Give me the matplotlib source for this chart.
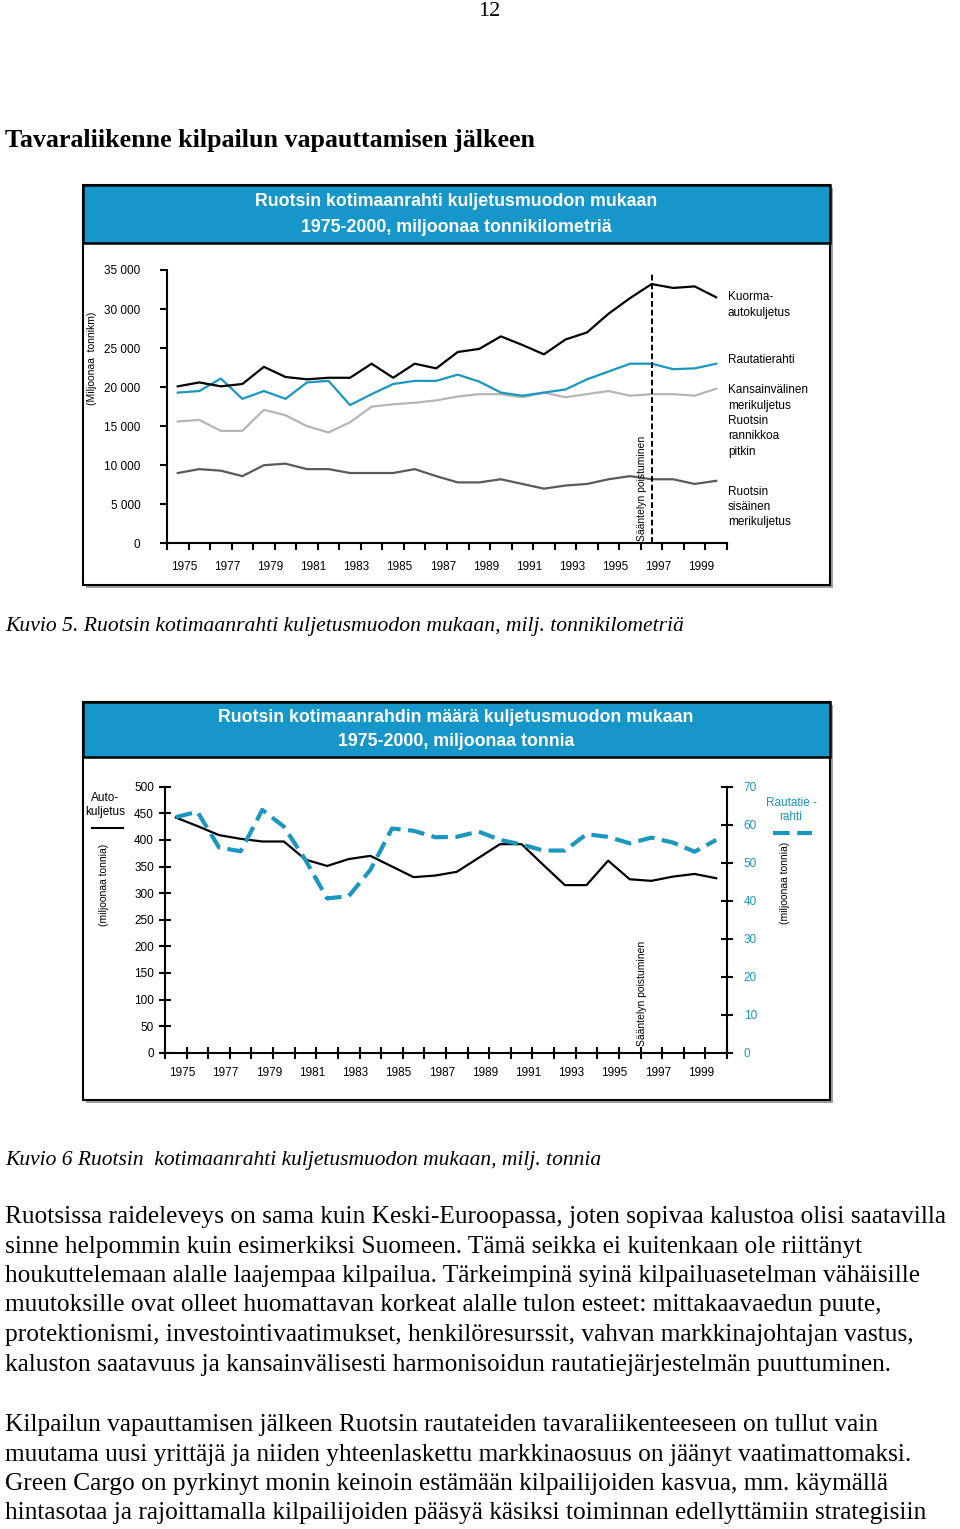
import matplotlib
matplotlib.use('Agg')
import matplotlib.pyplot as plt
from matplotlib.patches import Rectangle

# --- data: Swedish domestic freight, 1975-2000 ---
years = list(range(1975, 2001))
year_labels = [str(y) for y in years[::2]]

# chart 1: million tonne-km
truck_tkm = [20100, 20600, 20100, 20400, 22600, 21300, 21000, 21200, 21200, 23000, 21200, 23000, 22400,
             24500, 24900, 26500, 25400, 24200, 26100, 27000, 29400, 31400, 33200, 32700, 32900, 31500]
rail_tkm = [19300, 19500, 21100, 18500, 19500, 18500, 20600, 20800, 17700, 19100, 20400, 20800, 20800,
            21600, 20700, 19300, 18900, 19300, 19700, 21000, 22000, 23000, 23000, 22300, 22400, 23000]
intl_sea_tkm = [15600, 15800, 14400, 14400, 17100, 16400, 15000, 14200, 15500, 17500, 17800, 18000, 18300,
                18800, 19100, 19100, 18700, 19300, 18700, 19100, 19500, 18900, 19100, 19100, 18900, 19800]
domestic_sea_tkm = [9000, 9500, 9300, 8600, 10000, 10200, 9500, 9500, 9000, 9000, 9000, 9500, 8600,
                    7800, 7800, 8200, 7600, 7000, 7400, 7600, 8200, 8600, 8200, 8200, 7600, 8000]

# chart 2: million tonnes
truck_t = [442, 426, 409, 402, 397, 397, 363, 351, 364, 370, 350, 330, 333,
           340, 366, 392, 392, 353, 315, 315, 361, 326, 323, 331, 336, 328]
rail_t = [62.0, 63.4, 54.0, 53.0, 63.9, 59.5, 50.7, 40.6, 41.2, 48.1, 59.0, 58.4, 56.7,
          56.8, 58.2, 56.0, 54.8, 53.2, 53.2, 57.5, 56.8, 55.1, 56.6, 55.3, 52.9, 56.0]

dereg_year = 1997

BLUE = '#1796c9'
LINE_BLUE = '#1a97c0'
NARROW = ['Liberation Sans', 'DejaVu Sans']
SERIF = ['Liberation Serif', 'DejaVu Serif']
TICK_FS = 8.5

W, H = 960, 1529
fig = plt.figure(figsize=(W / 100, H / 100), dpi=100)

bg = fig.add_axes([0, 0, 1, 1])
bg.set_xlim(0, W)
bg.set_ylim(H, 0)
bg.axis('off')


def px_axes(left, top, right, bottom):
    return fig.add_axes([left / W, 1 - bottom / H, (right - left) / W, (bottom - top) / H])


def panel(top, bottom, head_bottom, title_lines, title_ys):
    bg.add_patch(Rectangle((86, top + 3), 747, bottom - top, fc='#a0a0a0', ec='none'))
    bg.add_patch(Rectangle((83, top), 747, bottom - top, fc='white', ec='black', lw=1.5))
    bg.add_patch(Rectangle((83, top), 747, head_bottom - top, fc=BLUE, ec='black', lw=1.8))
    for t, y in zip(title_lines, title_ys):
        bg.text(456, y, t, color='white', fontsize=12.8, fontweight='bold', family=NARROW,
                ha='center', va='center')


# page text
bg.text(489, 12, '12', family=SERIF, fontsize=16, ha='center', va='center')
bg.text(5, 140, 'Tavaraliikenne kilpailun vapauttamisen jälkeen', family=SERIF, fontsize=18.7,
        fontweight='bold', ha='left', va='center')
bg.text(5, 627, 'Kuvio 5. Ruotsin kotimaanrahti kuljetusmuodon mukaan, milj. tonnikilometriä',
        family=SERIF, fontsize=15.6, style='italic', ha='left', va='center')
bg.text(5, 1161, 'Kuvio 6 Ruotsin  kotimaanrahti kuljetusmuodon mukaan, milj. tonnia',
        family=SERIF, fontsize=15.5, style='italic', ha='left', va='center')

para1 = ['Ruotsissa raideleveys on sama kuin Keski-Euroopassa, joten sopivaa kalustoa olisi saatavilla',
         'sinne helpommin kuin esimerkiksi Suomeen. Tämä seikka ei kuitenkaan ole riittänyt',
         'houkuttelemaan alalle laajempaa kilpailua. Tärkeimpinä syinä kilpailuasetelman vähäisille',
         'muutoksille ovat olleet huomattavan korkeat alalle tulon esteet: mittakaavaedun puute,',
         'protektionismi, investointivaatimukset, henkilöresurssit, vahvan markkinajohtajan vastus,',
         'kaluston saatavuus ja kansainvälisesti harmonisoidun rautatiejärjestelmän puuttuminen.']
para2 = ['Kilpailun vapauttamisen jälkeen Ruotsin rautateiden tavaraliikenteeseen on tullut vain',
         'muutama uusi yrittäjä ja niiden yhteenlaskettu markkinaosuus on jäänyt vaatimattomaksi.',
         'Green Cargo on pyrkinyt monin keinoin estämään kilpailijoiden kasvua, mm. käymällä',
         'hintasotaa ja rajoittamalla kilpailijoiden pääsyä käsiksi toiminnan edellyttämiin strategisiin']
for i, line in enumerate(para1):
    bg.text(5, 1217 + i * 29.5, line, family=SERIF, fontsize=18.3, ha='left', va='center')
for i, line in enumerate(para2):
    bg.text(5, 1425 + i * 29.5, line, family=SERIF, fontsize=18.3, ha='left', va='center')

# ---------------- chart 1 ----------------
panel(185, 585, 243, ['Ruotsin kotimaanrahti kuljetusmuodon mukaan',
                      '1975-2000, miljoonaa tonnikilometriä'], [202, 227])

ax1 = px_axes(167, 270, 727, 543.3)
ax1.patch.set_visible(False)
xc = [i + 0.5 for i in range(len(years))]
ax1.plot(xc, intl_sea_tkm, color='#b5b5b5', lw=1.6)
ax1.plot(xc, domestic_sea_tkm, color='#5a5a5a', lw=1.6)
ax1.plot(xc, rail_tkm, color=LINE_BLUE, lw=1.6)
ax1.plot(xc, truck_tkm, color='black', lw=1.6)
dx = years.index(dereg_year) + 0.5
ax1.plot([dx, dx], [0, 34800], color='black', lw=1.4, ls=(0, (3, 1.5)))
ax1.text(dx - 0.45, 300, 'Sääntelyn poistuminen', rotation=90, fontsize=7.5, family=NARROW,
         ha='center', va='bottom')
ax1.set_xlim(0, len(years))
ax1.set_ylim(0, 35000)
for s in ['top', 'right']:
    ax1.spines[s].set_visible(False)
for s in ['left', 'bottom']:
    ax1.spines[s].set_linewidth(1.5)
yt = list(range(0, 35001, 5000))
ax1.set_yticks(yt)
ax1.set_yticklabels([f'{v:,}'.replace(',', ' ') for v in yt], family=NARROW, fontsize=TICK_FS)
ax1.tick_params(axis='y', direction='out', length=5, width=1.5, pad=14)
ax1.set_xticks(range(len(years) + 1))
ax1.set_xticklabels([])
ax1.tick_params(axis='x', which='major', direction='out', length=5, width=1.5)
ax1.set_xticks([i + 0.8 for i in range(0, len(years), 2)], minor=True)
ax1.set_xticklabels(year_labels, minor=True, family=NARROW, fontsize=TICK_FS)
ax1.tick_params(axis='x', which='minor', length=0, pad=13)

bg.text(92, 358, '(Miljoonaa  tonnikm)', rotation=90, family=NARROW, fontsize=7.5,
        ha='center', va='center')
leg1 = [('Kuorma-\nautokuljetus', 305), ('Rautatierahti', 360),
        ('Kansainvälinen\nmerikuljetus\nRuotsin\nrannikkoa\npitkin', 421),
        ('Ruotsin\nsisäinen\nmerikuljetus', 507)]
for t, y in leg1:
    bg.text(728, y, t, family=NARROW, fontsize=TICK_FS, ha='left', va='center', linespacing=1.38)

# ---------------- chart 2 ----------------
panel(702, 1100, 757, ['Ruotsin kotimaanrahdin määrä kuljetusmuodon mukaan',
                       '1975-2000, miljoonaa tonnia'], [718, 741])

ax2 = px_axes(165, 786.7, 727, 1052.7)
ax2.patch.set_visible(False)
ax2.plot(xc, truck_t, color='black', lw=1.6)
ax2.set_xlim(0, len(years))
ax2.set_ylim(0, 500)
ax2r = ax2.twinx()
ax2r.plot(xc, rail_t, color=LINE_BLUE, lw=3, ls=(0, (4, 1.8)))
ax2r.set_ylim(0, 70)
for a in (ax2, ax2r):
    a.spines['top'].set_visible(False)
    for s in ['left', 'bottom', 'right']:
        a.spines[s].set_linewidth(1.5)
ax2.spines['right'].set_visible(False)
ax2r.spines['left'].set_visible(False)
ax2r.spines['bottom'].set_visible(False)
lt = list(range(0, 501, 50))
ax2.set_yticks(lt)
ax2.set_yticklabels([str(v) for v in lt], family=NARROW, fontsize=TICK_FS)
ax2.tick_params(axis='y', direction='inout', length=8, width=1.5, pad=4)
rt = list(range(0, 71, 10))
ax2r.set_yticks(rt)
ax2r.set_yticklabels([str(v) for v in rt], family=NARROW, fontsize=TICK_FS, color=LINE_BLUE)
ax2r.tick_params(axis='y', direction='inout', length=8, width=1.5, pad=8)
ax2.set_xticks(range(len(years) + 1))
ax2.set_xticklabels([])
ax2.tick_params(axis='x', which='major', direction='inout', length=8, width=1.5)
ax2.set_xticks([i + 0.8 for i in range(0, len(years), 2)], minor=True)
ax2.set_xticklabels(year_labels, minor=True, family=NARROW, fontsize=TICK_FS)
ax2.tick_params(axis='x', which='minor', length=0, pad=10)
ax2.text(dx - 0.45, 12, 'Sääntelyn poistuminen', rotation=90, fontsize=7.5, family=NARROW,
         ha='center', va='bottom')

bg.text(105, 805, 'Auto-\nkuljetus', family=NARROW, fontsize=TICK_FS, ha='center', va='center',
        linespacing=1.25)
bg.plot([92, 123], [828, 828], color='black', lw=1.5)
bg.text(104, 885, '(miljoonaa tonnia)', rotation=90, family=NARROW, fontsize=7.5,
        ha='center', va='center')
bg.text(791, 810, 'Rautatie -\nrahti', family=NARROW, fontsize=TICK_FS, color=LINE_BLUE,
        ha='center', va='center', linespacing=1.15)
bg.plot([773, 812], [833, 833], color=LINE_BLUE, lw=3, ls=(0, (4, 1.8)))
bg.text(785, 883, '(miljoonaa tonnia)', rotation=90, family=NARROW, fontsize=7.5,
        ha='center', va='center')

fig.savefig('out.png', dpi=100)
